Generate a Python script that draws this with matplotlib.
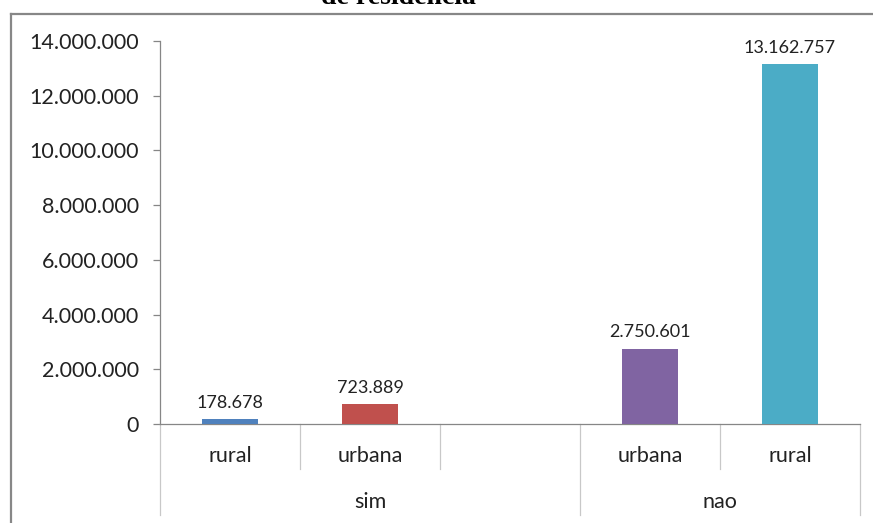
import matplotlib.pyplot as plt
from matplotlib.lines import Line2D

# Population by residence zone, grouped by sim / nao
zones = ["rural", "urbana", "", "urbana", "rural"]
groups = ["sim", "nao"]
group_spans = [(0, 2), (3, 4)]
values = [178678, 723889, None, 2750601, 13162757]
colors = ["#4F81BD", "#C0504D", None, "#8064A2", "#4BACC6"]
yticks = [0, 2000000, 4000000, 6000000, 8000000, 10000000, 12000000, 14000000]

plt.rcParams['font.family'] = ['Lato', 'DejaVu Sans']


def fmt(v):
    # thousands separated by dots
    return f"{v:,.0f}".replace(",", ".")


W, H = 873, 523
fig = plt.figure(figsize=(W / 100, H / 100), dpi=100)
ax = fig.add_axes([160 / W, (H - 424) / H, 700 / W, (424 - 41) / H])

grey = "#868686"
txt = "#222222"
for i, (v, c) in enumerate(zip(values, colors)):
    if v is None:
        continue
    ax.bar(i, v, width=0.4, color=c, zorder=3)
    ax.annotate(fmt(v), (i, v), xytext=(0, 6), textcoords="offset points",
                ha="center", va="bottom", fontsize=13, color=txt)

ax.set_xlim(-0.5, len(zones) - 0.5)
ax.set_ylim(0, 14000000)
ax.set_yticks(yticks)
ax.set_yticklabels([fmt(t) for t in yticks], fontsize=15.5, color=txt)
ax.set_xticks([])

for s in ["top", "right"]:
    ax.spines[s].set_visible(False)
for s in ["left", "bottom"]:
    ax.spines[s].set_color(grey)
    ax.spines[s].set_linewidth(0.9)
ax.tick_params(axis="y", length=5, width=0.9, color=grey, pad=10)

# two-level category axis
ah = 424 - 41
short = -45 / ah
long_ = -91 / ah
tr = ax.get_xaxis_transform()
for x in [-0.5, 0.5, 1.5, 2.5, 3.5, 4.5]:
    low = long_ if x in (-0.5, 2.5, 4.5) else short
    ax.add_line(Line2D([x, x], [0, low], transform=tr, color="#C8C8C8",
                       lw=0.9, clip_on=False))
for i, z in enumerate(zones):
    if z:
        ax.text(i, -32 / ah, z, transform=tr, ha="center", va="center",
                fontsize=15.5, color=txt)
for g, (a, b) in zip(groups, group_spans):
    ax.text((a + b) / 2, -78 / ah, g, transform=tr, ha="center",
            va="center", fontsize=15.5, color=txt)

# chart frame and the clipped title above it
border = "#878787"
fig.add_artist(Line2D([11 / W, 1], [1 - 14 / H, 1 - 14 / H], color=border, lw=1.6))
fig.add_artist(Line2D([11 / W, 11 / W], [0, 1 - 14 / H], color=border, lw=1.6))
fig.text(398 / W, 1 - 4 / H, "de residência", ha="center", va="baseline",
         fontsize=20, fontweight="bold", family="Liberation Serif")

fig.savefig("out.png", dpi=100)
